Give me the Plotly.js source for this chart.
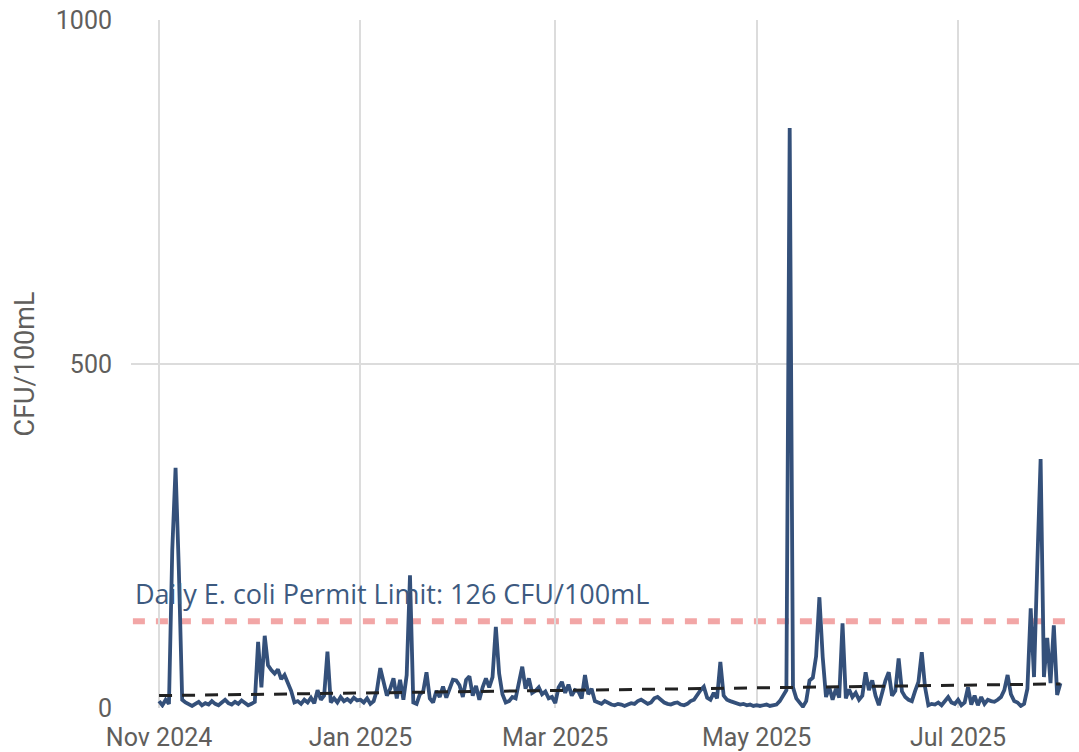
<!DOCTYPE html>
<html><head><meta charset="utf-8">
<script src="https://cdn.plot.ly/plotly-3.0.1.min.js"></script>
<style>html,body{margin:0;padding:0;background:#fff;}</style>
</head><body><div id="chart" style="width:1079px;height:752px;"></div>
<script>
// Daily E. coli samples, one value per day starting at startDate
const startDate = '2024-11-01';
const ecoliValues = [
  10, 4, 12, 6,
  230, 349, 200, 12,
  8,5,3,6,9,4,7,5,10,6,4,8,12,7,5,9,6,11,8,4,6,9,
  96, 30, 105, 62, 55, 50, 56, 42, 48, 36, 25, 8,
  10, 6, 12, 8, 15, 7, 26, 12, 18,
  82, 8,
  14, 8, 16, 10, 13, 9, 15, 11, 12,
  8, 14, 6, 10, 26, 58, 40, 18, 28, 43, 14, 41, 12, 48,
  193,
  8, 6, 20, 24, 52, 14, 8, 25, 16, 31, 15, 28, 41, 40, 33, 16, 41, 46, 18, 32, 12, 30, 43,
  30, 45, 118, 50, 20, 8,
  10, 16, 14, 35, 60, 28, 43, 22, 25, 30, 20, 24, 14, 16, 7, 30, 38, 22, 34, 18, 26, 24, 14, 48, 20, 28, 10,
  8,6,10,7,5,4,6,5,3,5,7,6,10,12,9,6,8,14,16,12,8,6,5,7,8,5,4,6,10,
  12, 20, 26, 31, 15, 12, 22, 14, 67, 18, 12, 10, 8, 7, 5, 6, 4, 5, 3, 4, 3, 4, 5, 3, 4, 5, 10, 18, 26,
  843,
  30, 14, 8, 2, 10, 40, 44, 75, 161, 74, 16, 30, 12, 28, 15, 123, 14, 27, 16, 22, 12, 18, 52, 26,
  40, 18, 4, 22, 40, 52, 18, 25, 72, 24, 16, 12, 10, 25, 38, 81, 30,
  4, 6, 5, 8, 4, 10, 16, 8, 6,
  12, 4, 8, 30, 5, 18, 4, 16, 6, 12, 10, 9, 12, 16, 26, 48, 20, 10, 8, 3, 6,
  28, 145, 45, 210, 362, 45, 102, 36, 120, 19, 36
];
const trendDates = ['2024-11-01', '2025-08-01'];
const trendValues = [18, 35];
const permitLimit = 126;
const permitLabel = 'Daily E. coli Permit Limit: 126 CFU/100mL';
const tickDates = ['2024-11-01', '2025-01-01', '2025-03-01', '2025-05-01', '2025-07-01'];
const tickLabels = ['Nov 2024', 'Jan 2025', 'Mar 2025', 'May 2025', 'Jul 2025'];
const yTicks = [0, 500, 1000];
const yTickLabels = ['0', '500', '1000'];
const yTitle = 'CFU/100mL';

function addDays(iso, n) {
  const d = new Date(iso + 'T00:00:00Z');
  d.setUTCDate(d.getUTCDate() + n);
  return d.toISOString().slice(0, 10);
}
const sampleDates = ecoliValues.map((_, i) => addDays(startDate, i));

const tickFont = {family: 'Roboto, "DejaVu Sans", sans-serif', size: 25, color: '#605e5c'};

const traces = [
  {
    x: sampleDates, y: ecoliValues, type: 'scatter', mode: 'lines',
    line: {color: '#34507a', width: 3.8},
    hoverinfo: 'x+y', showlegend: false
  },
  {
    x: trendDates, y: trendValues, type: 'scatter', mode: 'lines',
    line: {color: '#222222', width: 3, dash: '13px,10px'},
    showlegend: false
  }
];

const layout = {
  width: 1079, height: 752,
  margin: {l: 131, r: 0, t: 20, b: 44},
  paper_bgcolor: '#ffffff', plot_bgcolor: '#ffffff',
  showlegend: false,
  xaxis: {
    type: 'date',
    range: ['2024-10-23 12:00', '2025-08-06 15:00'],
    tickvals: tickDates, ticktext: tickLabels,
    showgrid: true, gridcolor: '#dcdcdc', gridwidth: 1.5,
    zeroline: false, showline: false, ticks: '',
    ticklabelstandoff: 12,
    tickfont: tickFont
  },
  yaxis: {
    range: [0, 1000],
    tickvals: yTicks, ticktext: yTickLabels,
    showgrid: true, gridcolor: '#dcdcdc', gridwidth: 1.5,
    zeroline: false, showline: false, ticks: '',
    ticklabelstandoff: 18,
    tickfont: tickFont,
    title: {text: yTitle, standoff: 13, font: {family: 'Roboto, "DejaVu Sans", sans-serif', size: 27, color: '#605e5c'}}
  },
  shapes: [
    {type: 'line', xref: 'paper', x0: 0.002, x1: 0.995, yref: 'y', y0: permitLimit, y1: permitLimit,
     line: {color: 'rgba(236,128,128,0.7)', width: 6, dash: '12px,11px'}, layer: 'below'}
  ],
  annotations: [
    {xref: 'paper', x: 0, xanchor: 'left', xshift: 2, yref: 'y', y: permitLimit, yanchor: 'bottom', yshift: 7,
     text: permitLabel, showarrow: false,
     font: {family: '"Segoe UI", "Open Sans", "Noto Sans", sans-serif', size: 27, color: '#3d5a80'}}
  ]
};

Plotly.newPlot('chart', traces, layout, {displayModeBar: false, responsive: false});
</script>
</body></html>
